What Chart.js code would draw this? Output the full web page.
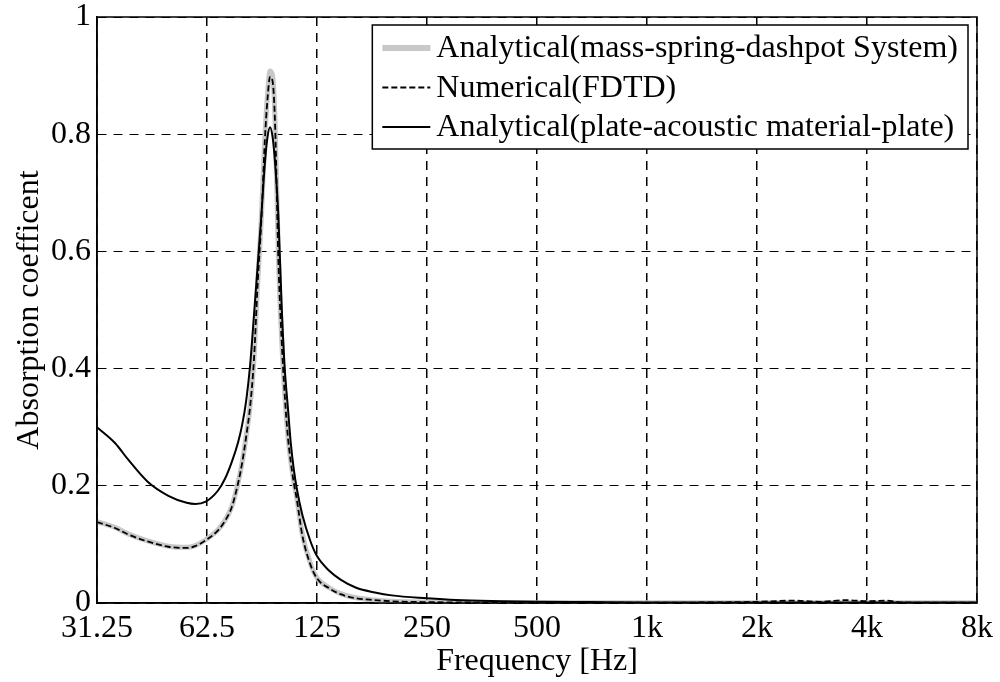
<!DOCTYPE html>
<html>
<head>
<meta charset="utf-8">
<script src="https://cdn.jsdelivr.net/npm/chart.js@4"></script>
<style>
html,body{margin:0;padding:0;background:#fff;}
#wrap{width:1000px;height:682px;}
</style>
</head>
<body>
<div id="wrap"><canvas id="c" width="1000" height="682"></canvas></div>
<script>
// ---- data ----
const freq = [31.25, 35, 38, 43, 49, 55, 58, 62, 67, 70, 73, 76, 78, 80, 82, 84, 86, 88, 90, 91.5, 93, 94.5, 96, 98, 100, 102, 104, 106, 108, 110, 114, 120, 125, 135, 145, 160, 180, 200, 250, 300, 400, 500, 700, 1000, 1500, 2000, 2500, 3000, 3500, 4000, 4500, 5000, 6000, 8000];

const analyticalMSD = [0.139, 0.129, 0.118, 0.106, 0.097, 0.095, 0.098, 0.108, 0.125, 0.141, 0.164, 0.205, 0.240, 0.285, 0.336, 0.415, 0.546, 0.655, 0.795, 0.868, 0.908, 0.900, 0.820, 0.592, 0.452, 0.357, 0.287, 0.242, 0.207, 0.180, 0.117, 0.067, 0.043, 0.026, 0.016, 0.009, 0.005, 0.003, 0.0015, 0.001, 0.0006, 0.0005, 0.0005, 0.0005, 0.0005, 0.0005, 0.0005, 0.0005, 0.0005, 0.0005, 0.0005, 0.0005, 0.0005, 0.0005];

const numericalFDTD = [0.138, 0.128, 0.117, 0.105, 0.096, 0.094, 0.097, 0.107, 0.124, 0.140, 0.163, 0.204, 0.239, 0.284, 0.335, 0.414, 0.545, 0.652, 0.790, 0.860, 0.898, 0.890, 0.815, 0.585, 0.450, 0.355, 0.285, 0.240, 0.205, 0.178, 0.115, 0.065, 0.042, 0.025, 0.015, 0.008, 0.005, 0.003, 0.0015, 0.001, 0.0006, 0.0005, 0.0005, 0.0005, 0.001, 0.002, 0.004, 0.002, 0.005, 0.003, 0.004, 0.001, 0.0005, 0.0005];

const analyticalPlate = [0.300, 0.273, 0.245, 0.207, 0.183, 0.171, 0.169, 0.173, 0.192, 0.212, 0.240, 0.274, 0.304, 0.345, 0.405, 0.490, 0.575, 0.660, 0.750, 0.795, 0.812, 0.795, 0.750, 0.660, 0.510, 0.400, 0.335, 0.272, 0.228, 0.196, 0.150, 0.105, 0.080, 0.055, 0.040, 0.026, 0.018, 0.013, 0.008, 0.005, 0.003, 0.002, 0.0015, 0.001, 0.001, 0.001, 0.001, 0.001, 0.001, 0.001, 0.001, 0.001, 0.001, 0.001];

const seriesLabels = ['Analytical(mass-spring-dashpot System)', 'Numerical(FDTD)', 'Analytical(plate-acoustic material-plate)'];

const xTickValues = [31.25, 62.5, 125, 250, 500, 1000, 2000, 4000, 8000];
const xTickLabels = ['31.25', '62.5', '125', '250', '500', '1k', '2k', '4k', '8k'];
const yTickValues = [0, 0.2, 0.4, 0.6, 0.8, 1];
const yTickLabels = ['0', '0.2', '0.4', '0.6', '0.8', '1'];

const xTitle = 'Frequency [Hz]';
const yTitle = 'Absorption coefficent';

// ---- styling ----
const FONT = '"Liberation Serif", "Times New Roman", Times, serif';
const toPoints = arr => freq.map((f, i) => ({x: f, y: arr[i]}));

const framePlugin = {
  id: 'frame',
  afterDatasetsDraw(chart) {
    const {ctx, chartArea: a} = chart;
    ctx.save();
    ctx.strokeStyle = '#000';
    ctx.lineWidth = 1.5;
    ctx.setLineDash([]);
    ctx.strokeRect(a.left, a.top, a.right - a.left, a.bottom - a.top);
    ctx.restore();
  }
};

const boxLegendPlugin = {
  id: 'boxLegend',
  afterDraw(chart) {
    const {ctx, chartArea: a} = chart;
    const ds = chart.data.datasets;
    ctx.save();
    ctx.font = '32px ' + FONT;
    const textW = Math.max(...ds.map(d => ctx.measureText(d.label).width));
    const padX = 10, sampleW = 48, gap = 6, rowH = 39.5;
    const boxW = padX + sampleW + gap + textW + padX;
    const boxH = 124;
    const right = a.right - 9, top = a.top + 8;
    const left = right - boxW;
    ctx.fillStyle = '#fff';
    ctx.fillRect(left, top, boxW, boxH);
    ctx.strokeStyle = '#000';
    ctx.lineWidth = 1.5;
    ctx.strokeRect(left, top, boxW, boxH);
    ds.forEach((d, i) => {
      const y = top + 23 + i * rowH;
      ctx.beginPath();
      ctx.setLineDash(d.borderDash || []);
      ctx.lineWidth = d.borderWidth === 5 ? 6 : d.borderWidth;
      ctx.strokeStyle = d.borderColor;
      ctx.moveTo(left + padX, y);
      ctx.lineTo(left + padX + sampleW, y);
      ctx.stroke();
      ctx.setLineDash([]);
      ctx.fillStyle = '#000';
      ctx.textAlign = 'left';
      ctx.textBaseline = 'middle';
      ctx.fillText(d.label, left + padX + sampleW + gap, y + 1);
    });
    ctx.restore();
  }
};

new Chart(document.getElementById('c'), {
  type: 'line',
  data: {
    datasets: [
      {label: seriesLabels[0], data: toPoints(analyticalMSD), borderColor: '#c8c8c8', borderWidth: 5, pointRadius: 0, order: 3, cubicInterpolationMode: 'monotone'},
      {label: seriesLabels[1], data: toPoints(numericalFDTD), borderColor: '#000', borderWidth: 1.8, borderDash: [6, 3], pointRadius: 0, order: 1, cubicInterpolationMode: 'monotone'},
      {label: seriesLabels[2], data: toPoints(analyticalPlate), borderColor: '#000', borderWidth: 2, pointRadius: 0, order: 2, cubicInterpolationMode: 'monotone'}
    ]
  },
  options: {
    responsive: false,
    animation: false,
    devicePixelRatio: 1,
    layout: {padding: {top: 17, right: 23, left: 0, bottom: 0}},
    plugins: {legend: {display: false}, tooltip: {enabled: false}},
    scales: {
      x: {
        type: 'logarithmic',
        min: 31.25,
        max: 8000,
        afterBuildTicks: s => { s.ticks = xTickValues.map(v => ({value: v})); },
        afterFit: s => { s.height = 79; s.paddingLeft = 0; s.paddingRight = 0; },
        ticks: {
          autoSkip: false, maxRotation: 0, minRotation: 0,
          color: '#000', padding: 6,
          font: {family: FONT, size: 32, lineHeight: 1.2},
          callback: (v, i) => xTickLabels[i]
        },
        grid: {color: '#000', lineWidth: 1.5, drawTicks: false},
        border: {display: true, color: '#000', width: 1.5, dash: [9, 7]},
        title: {display: true, text: xTitle, color: '#000', font: {family: FONT, size: 32, lineHeight: 1.2}, padding: {top: 0, bottom: 1}}
      },
      y: {
        type: 'linear',
        min: 0,
        max: 1,
        afterBuildTicks: s => { s.ticks = yTickValues.map(v => ({value: v})); },
        afterFit: s => { s.width = 97; s.paddingTop = 0; s.paddingBottom = 0; },
        ticks: {
          color: '#000', padding: 6,
          font: {family: FONT, size: 32, lineHeight: 1},
          callback: (v, i) => yTickLabels[i]
        },
        grid: {color: '#000', lineWidth: 1, drawTicks: false},
        border: {display: true, color: '#000', width: 1.5, dash: [9, 7]},
        title: {display: true, text: yTitle, color: '#000', font: {family: FONT, size: 32, lineHeight: 1.2}, padding: {top: 10, bottom: 0}}
      }
    }
  },
  plugins: [framePlugin, boxLegendPlugin]
});
</script>
</body>
</html>
